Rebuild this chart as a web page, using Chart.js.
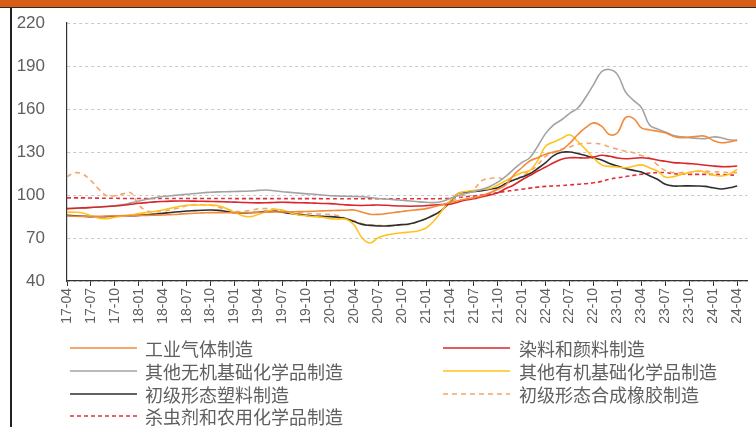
<!DOCTYPE html>
<html>
<head>
<meta charset="utf-8">
<script src="https://cdn.jsdelivr.net/npm/chart.js@4.4.1/dist/chart.umd.min.js"></script>
<style>
  html, body { margin: 0; padding: 0; background: #fff; }
  #wrap { position: relative; width: 756px; height: 427px; overflow: hidden; }
  #c { position: absolute; left: 0; top: 0; }
  #topbar { position: absolute; left: 0; top: 0; width: 756px; height: 7px; background: #D85E17; border-bottom: 1px solid #2b2b2b; }
  #leftline { position: absolute; left: 10px; top: 8px; width: 1.5px; height: 419px; background: #222; }
</style>
</head>
<body>
<div id="wrap">
  <canvas id="c" width="756" height="427"></canvas>
  <div id="topbar"></div>
  <div id="leftline"></div>
</div>
<script>
// Monthly index values, 2017-04 … 2024-04 (85 months)
const tickLabels = ['17-04','17-07','17-10','18-01','18-04','18-07','18-10','19-01','19-04','19-07','19-10',
  '20-01','20-04','20-07','20-10','21-01','21-04','21-07','21-10','22-01','22-04','22-07','22-10',
  '23-01','23-04','23-07','23-10','24-01','24-04'];

const seriesNames = ['工业气体制造','染料和颜料制造','其他无机基础化学品制造','其他有机基础化学品制造',
  '初级形态塑料制造','初级形态合成橡胶制造','杀虫剂和农用化学品制造'];

const industrialGas = [
  85.3, 85.2, 85.0, 85.0, 85.1, 85.3, 85.5, 85.6, 85.7, 85.8, 85.8, 85.9, 86.0, 86.3, 86.6,
  87.0, 87.3, 87.5, 87.7, 87.7, 87.6, 87.6, 87.7, 87.8, 87.9, 88.0, 88.1, 88.2, 88.3, 88.4,
  88.5, 88.7, 88.9, 89.1, 89.3, 89.4, 89.5, 88.0, 86.6, 86.5, 87.0, 87.8, 88.5, 89.2, 89.8,
  90.5, 91.8, 93.2, 94.7, 96.0, 97.2, 98.1, 99.5, 101.5, 104.0, 107.0, 114.0, 119.0, 123.7, 126.0,
  128.4, 130.0, 131.5, 136.0, 142.0, 147.0, 150.3, 148.0, 142.2, 143.4, 154.0, 153.5, 146.8, 145.5, 144.5,
  143.4, 141.0, 139.9, 140.5, 141.0, 141.0, 138.0, 136.5, 137.0, 138.3
];
const dyesPigments = [
  90.5, 90.8, 91.0, 91.3, 91.6, 92.0, 92.3, 92.8, 93.5, 94.2, 94.7, 95.2, 95.5, 95.7, 95.8,
  95.8, 95.7, 95.6, 95.5, 95.4, 95.2, 95.0, 94.8, 94.6, 94.5, 94.6, 94.8, 94.9, 94.8, 94.6,
  94.5, 94.3, 94.1, 94.0, 93.6, 93.1, 92.8, 92.7, 92.9, 93.0, 92.8, 92.5, 92.3, 92.2, 92.3,
  92.6, 93.0, 93.3, 93.5, 95.0, 96.5, 97.4, 98.8, 100.0, 101.5, 104.5, 107.0, 110.5, 113.5, 116.7,
  119.5, 122.5, 125.0, 126.0, 126.0, 125.8, 126.5, 127.7, 127.0, 125.8, 125.3, 125.6, 126.0, 125.5, 124.4,
  123.5, 122.6, 122.3, 121.9, 121.5, 120.8, 120.2, 119.8, 119.8, 120.2
];
const otherInorganic = [
  90.5, 90.7, 91.0, 91.3, 91.6, 92.0, 92.5, 93.3, 94.5, 95.8, 97.0, 98.0, 99.0, 99.5, 100.0,
  100.5, 101.0, 101.6, 101.9, 102.2, 102.3, 102.4, 102.6, 102.8, 103.2, 103.5, 103.0, 102.3, 101.8, 101.3,
  100.8, 100.5, 100.0, 99.5, 99.3, 99.1, 99.0, 98.8, 98.3, 97.6, 97.2, 96.8, 96.3, 95.8, 95.3,
  94.9, 94.7, 95.5, 97.5, 99.5, 101.0, 102.5, 104.0, 106.0, 109.0, 113.0, 118.0, 122.6, 126.0, 134.0,
  143.0, 149.0, 152.5, 157.0, 160.5, 168.0, 177.0, 186.0, 187.5, 184.0, 172.0, 166.0, 161.0, 149.0, 146.0,
  144.0, 141.5, 140.6, 140.0, 139.5, 139.3, 140.5, 140.0, 138.5, 138.0
];
const otherOrganic = [
  88.1, 88.0, 87.5, 85.5, 83.8, 83.5, 84.5, 85.3, 86.0, 87.0, 87.8, 88.5, 89.5, 90.8, 92.0,
  92.8, 93.0, 93.0, 93.0, 92.5, 90.5, 88.0, 85.5, 84.9, 86.5, 88.5, 90.0, 89.5, 87.5, 86.0,
  85.5, 84.9, 84.5, 83.5, 83.2, 83.0, 79.0, 70.0, 66.5, 70.2, 72.0, 73.0, 73.7, 74.2, 74.9,
  77.0, 82.0, 89.0, 95.8, 101.0, 102.5, 103.2, 103.8, 104.5, 107.0, 110.0, 113.0, 115.5, 117.0, 124.0,
  134.2, 137.0, 139.5, 142.0, 137.5, 131.8, 126.0, 121.0, 120.0, 119.5, 119.0, 120.0, 121.0, 119.0, 116.7,
  112.5, 112.8, 114.4, 115.5, 116.7, 116.0, 114.0, 113.3, 114.5, 117.9
];
const primaryPlastics = [
  85.8, 85.5, 85.2, 84.9, 84.8, 85.0, 85.3, 85.5, 85.6, 85.8, 86.2, 86.7, 87.2, 87.8, 88.3,
  88.8, 89.1, 89.4, 89.5, 89.3, 88.5, 87.7, 87.5, 87.6, 88.0, 88.6, 88.8, 88.0, 87.2, 86.5,
  85.8, 85.4, 85.1, 84.9, 84.4, 83.5, 81.5, 79.5, 78.8, 78.4, 78.4, 78.8, 79.3, 80.0, 81.5,
  83.5, 86.0, 89.5, 95.1, 101.0, 101.8, 102.5, 103.0, 104.0, 105.1, 108.0, 110.5, 112.5, 114.8, 118.5,
  122.6, 127.5, 129.8, 130.0, 128.9, 127.5, 125.8, 124.5, 122.0, 120.2, 118.5, 117.2, 116.0, 113.5, 111.0,
  107.5, 106.3, 106.3, 106.4, 106.3, 106.0, 105.0, 104.2, 105.0, 106.3
];
const syntheticRubber = [
  112.8, 115.5, 114.5, 110.0, 104.0, 99.5, 99.5, 100.8, 101.5, 93.0, 89.0, 88.3, 88.8, 89.6, 91.0,
  92.5, 93.2, 93.2, 92.8, 91.5, 90.0, 88.8, 88.5, 89.3, 90.3, 90.5, 90.0, 88.8, 88.0, 87.6,
  87.2, 86.9, 86.6, 86.5, 85.5, 83.5, 81.9, 80.0, 79.0, 78.8, 78.6, 78.8, 79.2, 79.5, 81.5,
  83.5, 86.5, 89.5, 94.5, 98.0, 100.5, 104.0, 110.0, 111.5, 112.1, 110.5, 110.5, 113.0, 116.5, 121.0,
  127.0, 129.5, 131.9, 133.5, 135.5, 136.0, 136.0, 135.5, 133.5, 132.0, 130.5, 129.5, 127.5, 126.0, 121.0,
  117.0, 115.6, 115.6, 115.8, 116.5, 116.7, 116.2, 116.0, 115.5, 115.6
];
const pesticides = [
  98.0, 98.0, 98.0, 97.9, 97.8, 97.7, 97.7, 97.6, 97.6, 97.6, 97.6, 97.6, 97.6, 97.6, 97.6,
  97.6, 97.6, 97.6, 97.6, 97.6, 97.6, 97.5, 97.5, 97.5, 97.5, 97.5, 97.5, 97.5, 97.5, 97.5,
  97.5, 97.5, 97.4, 97.4, 97.4, 97.4, 97.4, 97.4, 97.4, 97.4, 97.4, 97.4, 97.4, 97.4, 97.4,
  97.4, 97.4, 97.5, 97.8, 98.3, 98.8, 99.3, 100.0, 100.8, 101.6, 102.5, 103.3, 104.0, 104.8, 105.5,
  106.0, 106.3, 106.6, 107.0, 107.5, 107.9, 108.5, 109.5, 111.0, 112.0, 112.8, 113.7, 114.5, 115.3, 115.6,
  115.6, 114.9, 114.6, 114.4, 114.4, 114.4, 114.4, 114.3, 114.0, 113.7
];

const toPoints = arr => arr.map((v, i) => ({ x: i, y: v }));

const styles = [
  { color: '#F28A3B', dash: [] },
  { color: '#D9262B', dash: [] },
  { color: '#A3A3A3', dash: [] },
  { color: '#FFC31F', dash: [] },
  { color: '#2E2E2E', dash: [] },
  { color: '#F5A66A', dash: [5, 4] },
  { color: '#E0323C', dash: [4, 3] }
];
const seriesValues = [industrialGas, dyesPigments, otherInorganic, otherOrganic, primaryPlastics, syntheticRubber, pesticides];

const datasets = seriesValues.map((vals, k) => ({
  label: seriesNames[k],
  data: toPoints(vals),
  borderColor: styles[k].color,
  backgroundColor: styles[k].color,
  borderDash: styles[k].dash,
  borderWidth: 1.6,
  pointRadius: 0,
  tension: 0.4,
  fill: false
}));

// Two-column legend drawn under the axis
const columnLegend = {
  id: 'columnLegend',
  afterDraw(chart) {
    const ctx = chart.ctx;
    const cols = [{ lx: 70, tx: 145 }, { lx: 443, tx: 519 }];
    const rows = [348, 371, 394, 416];
    chart.data.datasets.forEach((ds, k) => {
      const c = cols[k % 2];
      const y = rows[Math.floor(k / 2)];
      ctx.save();
      ctx.strokeStyle = ds.borderColor;
      ctx.lineWidth = 1.5;
      ctx.setLineDash(ds.borderDash || []);
      ctx.beginPath();
      ctx.moveTo(c.lx, y);
      ctx.lineTo(c.lx + 67, y);
      ctx.stroke();
      ctx.setLineDash([]);
      ctx.fillStyle = '#5f5f5f';
      ctx.font = '18px "Noto Sans CJK SC", sans-serif';
      ctx.textBaseline = 'middle';
      ctx.fillText(ds.label, c.tx, y + 1);
      ctx.restore();
    });
  }
};

new Chart(document.getElementById('c'), {
  type: 'line',
  data: { datasets },
  plugins: [columnLegend],
  options: {
    responsive: false,
    animation: false,
    devicePixelRatio: 1,
    layout: { padding: { top: 23, right: 3, left: 0, bottom: 0 } },
    plugins: { legend: { display: false }, tooltip: { enabled: false } },
    scales: {
      x: {
        type: 'linear',
        min: 0,
        max: 85.3,
        afterBuildTicks: s => { s.ticks = tickLabels.map((_, k) => ({ value: k * 3 })); },
        afterFit: s => { s.height = 146; },
        grid: { drawOnChartArea: false, drawTicks: true, tickLength: 5, tickColor: '#333', lineWidth: 1 },
        border: { color: '#333', width: 1.2 },
        ticks: {
          autoSkip: false,
          minRotation: 90,
          maxRotation: 90,
          padding: 2,
          color: '#5f5f5f',
          font: { family: '"Liberation Sans", Arial, sans-serif', size: 14 },
          callback: v => tickLabels[Math.round(v / 3)]
        }
      },
      y: {
        min: 40,
        max: 220,
        afterFit: s => { s.width = 67; },
        grid: { color: '#c8c8c8', drawTicks: true, tickLength: 22, tickColor: 'rgba(0,0,0,0)', lineWidth: 1 },
        border: { color: '#333', width: 1.2, dash: [3, 3] },
        ticks: {
          stepSize: 30,
          padding: 0,
          color: '#5f5f5f',
          font: { family: '"Liberation Sans", Arial, sans-serif', size: 17 }
        }
      }
    }
  }
});
</script>
</body>
</html>
